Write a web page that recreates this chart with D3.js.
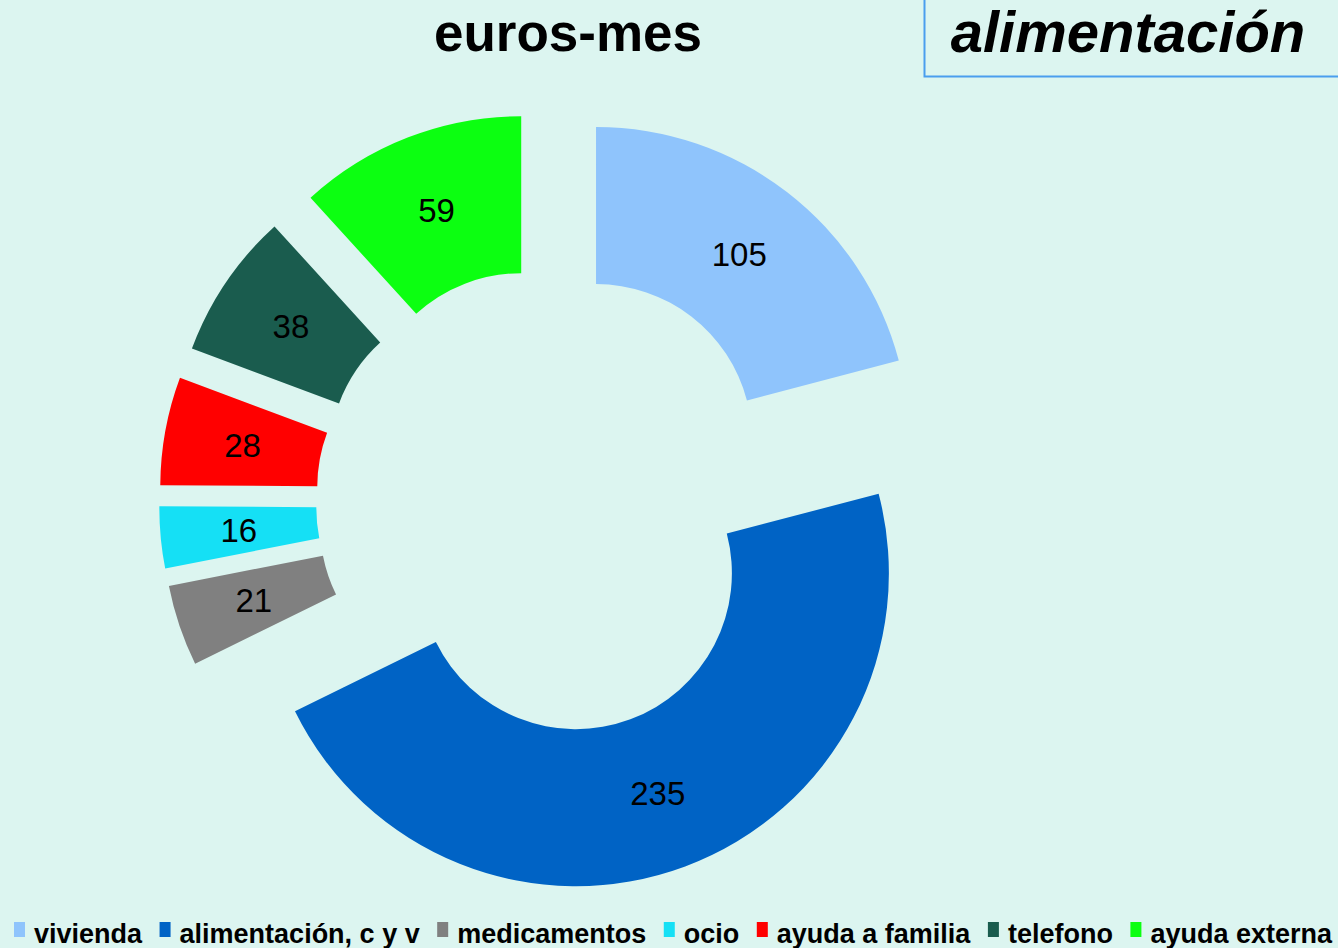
<!doctype html>
<html>

<head>
	<meta charset="utf-8">
	<title>euros-mes</title>
	<script src="https://cdn.jsdelivr.net/npm/d3@7"></script>
	<style>
		body { margin: 0; background: #dcf5f0; }
		text { font-family: "Liberation Sans", Arial, sans-serif; }
	</style>
</head>

<body>

	<script>

        // data
        var categories = ["vivienda", "alimentación, c y v", "medicamentos", "ocio", "ayuda a familia", "telefono", "ayuda externa"];
        var values = [105, 235, 21, 16, 28, 38, 59];
        var colors = ["#8fc4fc", "#0063c5", "#808080", "#15e0f5", "#ff0000", "#1a5c4e", "#0cff11"];

        var width = 1338;
        var height = 948;
        var cx = 549, cy = 501;
        var innerR = 156, outerR = 313;
        var explode = 77;

        var data = categories.map(function(c, i) { return { name: c, value: values[i], color: colors[i] }; });

        var svg = d3.select("body")
                .append("svg")
                .attr("width", width)
                .attr("height", height);

        svg.append("rect")
            .attr("width", width)
            .attr("height", height)
            .attr("fill", "#dcf5f0");

        // title
        svg.append("text")
            .attr("x", 568)
            .attr("y", 51)
            .attr("text-anchor", "middle")
            .attr("font-size", 53)
            .attr("font-weight", "bold")
            .text("euros-mes");

        // box top right
        svg.append("path")
            .attr("d", "M924.5,0 V76.5 H1338")
            .attr("fill", "none")
            .attr("stroke", "#4a9eee")
            .attr("stroke-width", 2);

        svg.append("text")
            .attr("x", 1128)
            .attr("y", 52)
            .attr("text-anchor", "middle")
            .attr("font-size", 58)
            .attr("font-weight", "bold")
            .attr("font-style", "italic")
            .text("alimentación");

        var pie = d3.pie()
                    .sort(null)
                    .value(function(d) { return d.value; });

        var arc = d3.arc()
                    .innerRadius(innerR)
                    .outerRadius(outerR);

        var slices = svg.append("g")
                    .attr("transform", "translate(" + cx + "," + cy + ")")
                    .selectAll("g")
                    .data(pie(data))
                    .enter()
                    .append("g")
                    .attr("transform", function(d) {
                        var mid = (d.startAngle + d.endAngle) / 2;
                        return "translate(" + (explode * Math.sin(mid)) + "," + (-explode * Math.cos(mid)) + ")";
                    });

        slices.append("path")
            .attr("d", arc)
            .attr("fill", function(d) { return d.data.color; });

        slices.append("text")
            .attr("transform", function(d) { return "translate(" + arc.centroid(d) + ")"; })
            .attr("text-anchor", "middle")
            .attr("dy", "0.36em")
            .attr("font-size", 33)
            .attr("fill", "#000")
            .text(function(d) { return d.data.value; });

        // legend, flowing along the bottom
        var legend = svg.append("g");
        var items = legend.selectAll("g")
                    .data(data)
                    .enter()
                    .append("g");

        items.append("rect")
            .attr("width", 11)
            .attr("height", 15)
            .attr("y", 922)
            .attr("fill", function(d) { return d.color; });

        items.append("text")
            .attr("x", 20)
            .attr("y", 943)
            .attr("font-size", 27)
            .attr("font-weight", "bold")
            .text(function(d) { return d.name; });

        var widths = [];
        items.each(function() { widths.push(20 + d3.select(this).select("text").node().getComputedTextLength()); });
        var left = 14, right = 1332;
        var total = d3.sum(widths);
        var gap = (right - left - total) / (widths.length - 1);
        var x = left;
        items.attr("transform", function(d, i) {
            var t = "translate(" + x + ",0)";
            x += widths[i] + gap;
            return t;
        });

	</script>
</body>

</html>
